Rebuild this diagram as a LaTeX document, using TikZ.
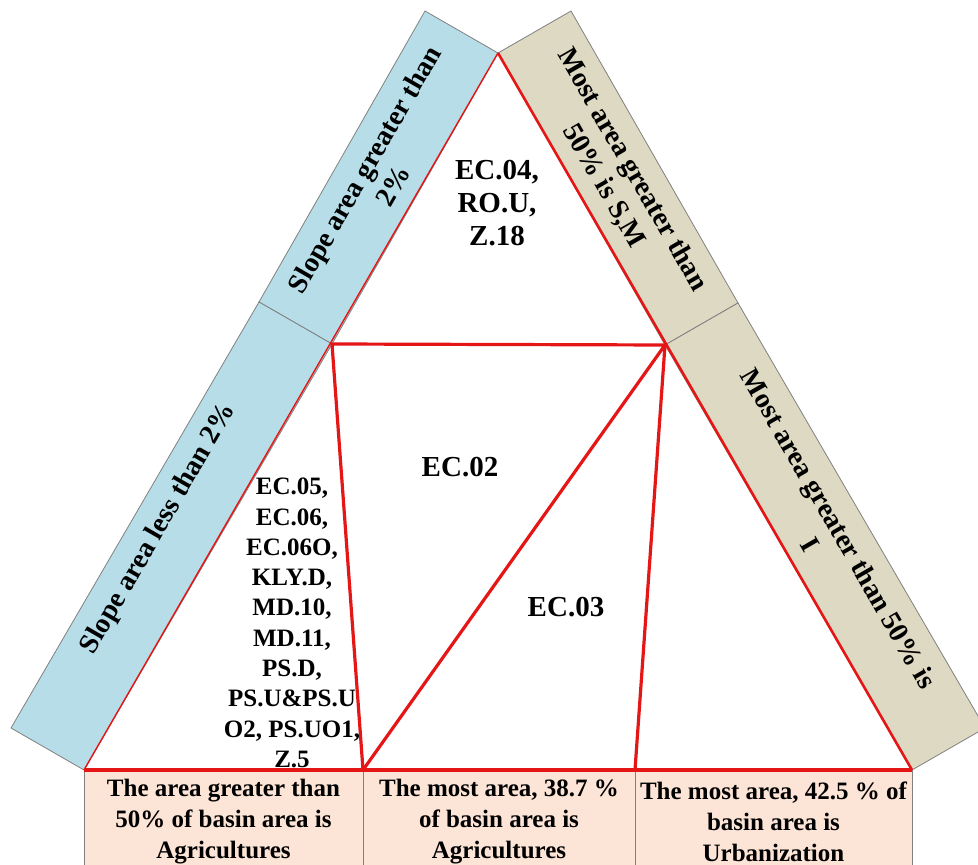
\documentclass[tikz,border=0pt]{standalone}
\usepackage{fontspec}
\setmainfont{Liberation Serif}
\usetikzlibrary{calc}
\definecolor{bandblue}{RGB}{183,222,232}
\definecolor{bandtan}{RGB}{221,217,195}
\definecolor{boxpeach}{RGB}{252,228,214}
\definecolor{edgered}{RGB}{228,22,22}
\definecolor{edgegray}{RGB}{128,128,128}

\begin{document}
\begin{tikzpicture}[x=1pt,y=1pt,
    band/.style={draw=edgegray,line width=0.8pt},
    redline/.style={draw=edgered,line width=3.2pt},
    bandtext/.style={font=\fontsize{28}{33}\selectfont\bfseries,align=center},
    celltext/.style={font=\fontsize{25}{31}\selectfont\bfseries,align=center},
    zonetext/.style={font=\fontsize{29}{33}\selectfont\bfseries,align=center}]
        \useasboundingbox (0,0) rectangle (978,865);
        \clip (0,0) rectangle (978,865);
        % corners of the triangle, L and R split the sides at 0.6 of the height
        \coordinate (A) at (498,812);
        \coordinate (BL) at (84,95);
        \coordinate (BR) at (912,95);
        \coordinate (L) at (332,521);
        \coordinate (R) at (665,520);
        \coordinate (P) at (363,95);
        \coordinate (Q) at (635,95);
        % width of the side bands
        \coordinate (wl) at (-73,42);
        \coordinate (wr) at (73,42);

        % side bands
        \draw[band,fill=bandblue] (A) -- (L) -- ($(L)+(wl)$) -- ($(A)+(wl)$) -- cycle;
        \draw[band,fill=bandblue] (L) -- (BL) -- ($(BL)+(wl)$) -- ($(L)+(wl)$) -- cycle;
        \draw[band,fill=bandtan] (A) -- (R) -- ($(R)+(wr)$) -- ($(A)+(wr)$) -- cycle;
        \draw[band,fill=bandtan] (R) -- (BR) -- ($(BR)+(wr)$) -- ($(R)+(wr)$) -- cycle;

        \node[bandtext,rotate=60] (slopeup) at ($(A)!0.5!(L)+0.5*(wl)$) {Slope area greater than\\2\%};
        \node[bandtext,rotate=60] (slopelow) at ($(L)!0.5!(BL)+0.67*(wl)$) {Slope area less than 2\%};
        \node[bandtext,rotate=-60] (mostsm) at ($(A)!0.5!(R)+0.5*(wr)$) {Most area greater than\\50\% is S,M};
        \node[bandtext,rotate=-60] (mosti) at ($(R)!0.5!(BR)+0.5*(wr)$) {Most area greater than 50\% is\\I};

        % sides and inner red lines
        \draw[edgered,line width=1.4pt] (BL) -- (A);
        \draw[edgered,line width=2.6pt] (A) -- (BR);
        \draw[redline,line join=round] (L) -- (R) -- (P) -- cycle;
        \draw[redline] (R) -- (Q);

        \node[zonetext] (ec04) at (497,662) {EC.04,\\RO.U,\\Z.18};
        \node[zonetext] (ec02) at (460,398) {EC.02};
        \node[zonetext] (ec03) at (566,258) {EC.03};
        \node[celltext,font=\fontsize{25}{30.3}\selectfont\bfseries] (eclist) at (292,242)
            {EC.05,\\EC.06,\\EC.06O,\\KLY.D,\\MD.10,\\MD.11,\\PS.D,\\PS.U\&PS.U\\O2, PS.UO1,\\Z.5};

        % land use boxes under the base
        \draw[edgegray,fill=boxpeach] (BL) rectangle (P |- 0,-5);
        \draw[edgegray,fill=boxpeach] (P) rectangle (Q |- 0,-5);
        \draw[edgegray,fill=boxpeach] (Q) rectangle (BR |- 0,-5);
        \draw[redline] (BL) -- (BR);

        \node[celltext] (agri1) at (223.5,43.5) {The area greater than\\50\% of basin area is\\Agricultures};
        \node[celltext] (agri2) at (499,43.5) {The most area, 38.7 \%\\of basin area is\\Agricultures};
        \node[celltext] (urban) at (773.5,43.5) {The most area, 42.5 \% of\\basin area is\\Urbanization};

    \end{tikzpicture}
\end{document}
